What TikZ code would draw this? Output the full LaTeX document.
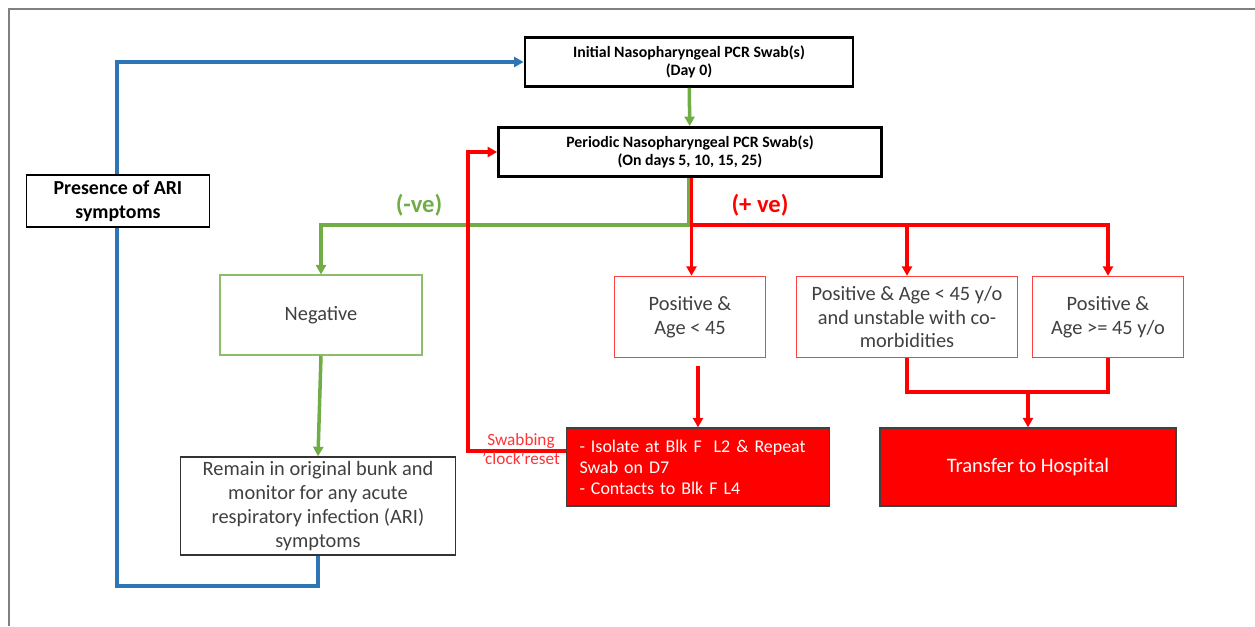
\documentclass[tikz,border=0pt]{standalone}
\usepackage{fontspec}
\setmainfont{Carlito}
\usepackage{tikz}
\usetikzlibrary{positioning,arrows.meta}

\definecolor{okgreen}{HTML}{70AD47}
\definecolor{ariblue}{HTML}{2E75B6}
\definecolor{boxtext}{HTML}{404040}

\begin{document}
\begin{tikzpicture}[x=0.02cm, y=-0.02cm,
    swab/.style={draw, line width=1.6pt, fill=white, font=\fontsize{9}{10.2}\selectfont\bfseries, align=center, minimum height=0.98cm},
    plainbox/.style={draw, fill=white, text=boxtext, align=center, font=\fontsize{11.6}{13.6}\selectfont},
    posbox/.style={plainbox, draw=red!75, line width=0.8pt, minimum height=1.62cm},
    actbox/.style={draw=black!75, line width=0.7pt, fill=red, text=white, minimum height=1.56cm, font=\fontsize{10.2}{11.9}\selectfont},
    greenline/.style={draw=okgreen, line width=2pt},
    redline/.style={draw=red, line width=2pt},
    blueline/.style={draw=ariblue, line width=2.2pt},
    >={Triangle[length=0.19cm, width=0.2cm]}]

    \useasboundingbox (0,0) rectangle (1255,626);
    \draw[gray, line width=1pt] (9,626) -- (9,9) -- (1255,9);

    \node[swab, minimum width=6.56cm]  (initial)  at (689, 62)  {Initial Nasopharyngeal PCR Swab(s)\\(Day 0)};
    \node[swab, minimum width=7.66cm]  (periodic) at (690, 152) {Periodic Nasopharyngeal PCR Swab(s)\\(On days 5, 10, 15, 25)};

    \node[plainbox, draw=okgreen!80, line width=0.6pt, minimum width=4.04cm, minimum height=1.6cm] (negative) at (321, 315) {Negative};
    \node[plainbox, draw=black!80, line width=0.8pt, minimum width=5.5cm, minimum height=1.96cm, inner ysep=0pt] (remain) at (318, 506)
        {Remain in original bunk and\\monitor for any acute\\respiratory infection (ARI)\\symptoms};

    \node[posbox, minimum width=3.02cm] (pos1) at (690, 317)  {Positive \&\\Age < 45};
    \node[posbox, minimum width=4.42cm] (pos2) at (907, 317)  {Positive \& Age < 45 y/o\\and unstable with co-\\morbidities};
    \node[posbox, minimum width=3.02cm] (pos3) at (1108, 317) {Positive \&\\Age >= 45 y/o};

    \node[actbox, text width=4.74cm, inner xsep=0.26cm, align=left] (isolate) at (698, 467)
        {- Isolate at Blk F\ \ L2 \& Repeat\\Swab on D7\\- Contacts to Blk F L4};
    \node[actbox, minimum width=5.92cm, font=\fontsize{11.7}{13.6}\selectfont] (transfer) at (1028, 467) {Transfer to Hospital};

    \coordinate (bturn) at (117, 586);
    \coordinate (gsplit) at (321, 225);
    \coordinate (rsplit) at (690, 225);
    \coordinate (p1out) at (698, 366);
    \coordinate (join) at (1028, 392);
    \coordinate (fb) at (468, 451);

    \draw[blueline, ->] (remain.south) |- (bturn) |- (initial.west);
    \node[plainbox, text=black, line width=0.9pt, minimum width=3.66cm, minimum height=1.02cm,
        font=\fontsize{11.3}{13.6}\selectfont\bfseries] (presence) at (118, 201) {Presence of ARI\\symptoms};

    \draw[greenline, ->] (initial) -- (periodic);
    \draw[redline, ->] ([xshift=0.03cm]periodic.south) -- ([xshift=0.03cm]pos1.north);
    \draw[redline, ->] ([xshift=0.03cm]rsplit) -| (pos3.north);
    \draw[redline, ->] (rsplit -| pos2.north) -- (pos2.north);
    \draw[greenline, ->] ([xshift=-0.03cm]periodic.south) |- (gsplit) -- (negative.north);
    \draw[greenline, ->] (negative.south) -- (remain.north);

    \draw[redline, ->] (p1out) -- (p1out |- isolate.north);
    \draw[redline] (pos2.south) |- (join) -| (pos3.south);
    \draw[redline, ->] (join) -- (transfer.north);
    \draw[redline, ->] (isolate.west |- fb) -- (fb) |- (periodic.west);

    \node[text=okgreen, font=\fontsize{14}{16}\selectfont\bfseries] (neglabel) at (419, 205) {(-ve)};
    \node[text=red, font=\fontsize{14}{16}\selectfont\bfseries] (poslabel) at (760, 205) {(+ ve)};
    \node[text=red!80, align=center, font=\fontsize{9.8}{10.8}\selectfont, inner sep=0pt] (resetlabel) at (521, 449) {Swabbing\\'clock'reset};

\end{tikzpicture}
\end{document}
